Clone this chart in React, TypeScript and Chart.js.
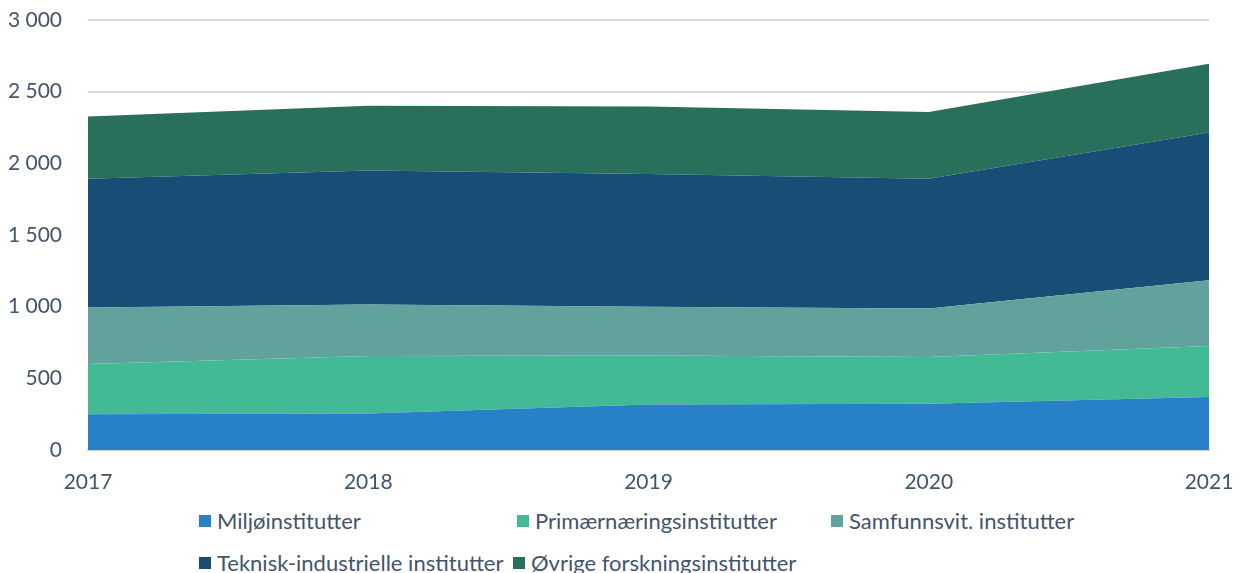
import React, { useEffect, useRef } from "react";
import { Chart, registerables } from "chart.js";

Chart.register(...registerables);

const years = ["2017", "2018", "2019", "2020", "2021"];
const seriesNames = [
  "Miljøinstitutter",
  "Primærnæringsinstitutter",
  "Samfunnsvit. institutter",
  "Teknisk-industrielle institutter",
  "Øvrige forskningsinstitutter",
];
const miljo = [250, 255, 318, 323, 369];
const primaer = [350, 401, 341, 326, 357];
const samfunn = [394, 359, 340, 338, 459];
const teknisk = [898, 935, 926, 905, 1030];
const ovrige = [435, 452, 472, 466, 479];
const colors = ["#2681C6", "#42BA96", "#62A29D", "#184E75", "#28705B"];

const TEXT = "#44546A";
const FONT = "Lato, 'Open Sans', sans-serif";

const fmt = (v: number) => {
  const s = String(Math.round(v));
  return s.length > 3 ? s.slice(0, s.length - 3) + " " + s.slice(-3) : s;
};

const legendPos = [
  { left: 199, top: 508 },
  { left: 517, top: 508 },
  { left: 831, top: 508 },
  { left: 199, top: 550 },
  { left: 513, top: 550 },
];

export default function App() {
  const ref = useRef<HTMLCanvasElement | null>(null);
  useEffect(() => {
    if (!ref.current) return;
    const values = [miljo, primaer, samfunn, teknisk, ovrige];
    const chart = new Chart(ref.current, {
      type: "line",
      data: {
        labels: years,
        datasets: values.map((d, i) => ({
          label: seriesNames[i],
          data: d,
          backgroundColor: colors[i],
          borderColor: colors[i],
          borderWidth: 0,
          pointRadius: 0,
          fill: i === 0 ? "origin" : "-1",
          tension: 0,
        })),
      },
      options: {
        animation: false,
        responsive: true,
        maintainAspectRatio: false,
        layout: { padding: 0 },
        plugins: { legend: { display: false }, tooltip: { enabled: false } },
        scales: {
          x: {
            grid: { display: false, drawTicks: false },
            border: { display: true, color: "#D3D6DE", width: 2 },
            ticks: {
              color: TEXT,
              font: { family: FONT, size: 21 },
              padding: 20,
              autoSkip: false,
              maxRotation: 0,
            },
            afterFit: (s: any) => {
              s.height = 50;
              s.paddingLeft = 0;
              s.paddingRight = 36;
            },
          },
          y: {
            stacked: true,
            min: 0,
            max: 3000,
            grid: { color: "#D9DCE6", lineWidth: 2, drawTicks: false },
            border: { display: false },
            ticks: {
              stepSize: 500,
              color: TEXT,
              font: { family: FONT, size: 21 },
              padding: 26,
              callback: (v: any) => fmt(Number(v)),
            },
            afterFit: (s: any) => {
              s.width = 88;
              s.paddingTop = 20;
              s.paddingBottom = 0;
            },
          },
        },
      },
    });
    return () => chart.destroy();
  }, []);

  return (
    <div style={{ position: "absolute", left: 0, top: 0, width: 1245, height: 573, background: "#fff", overflow: "hidden" }}>
      <div style={{ position: "absolute", left: 0, top: 0, width: 1245, height: 500 }}>
        <canvas ref={ref} />
      </div>
      {seriesNames.map((n, i) => (
        <div
          key={n}
          style={{
            position: "absolute",
            left: legendPos[i].left,
            top: legendPos[i].top,
            display: "flex",
            alignItems: "center",
            fontFamily: FONT,
            fontSize: 22,
            color: TEXT,
            whiteSpace: "nowrap",
            lineHeight: "26px",
          }}
        >
          <span style={{ display: "inline-block", width: 12, height: 12, background: colors[i], marginRight: 6 }} />
          <span>{n}</span>
        </div>
      ))}
    </div>
  );
}
